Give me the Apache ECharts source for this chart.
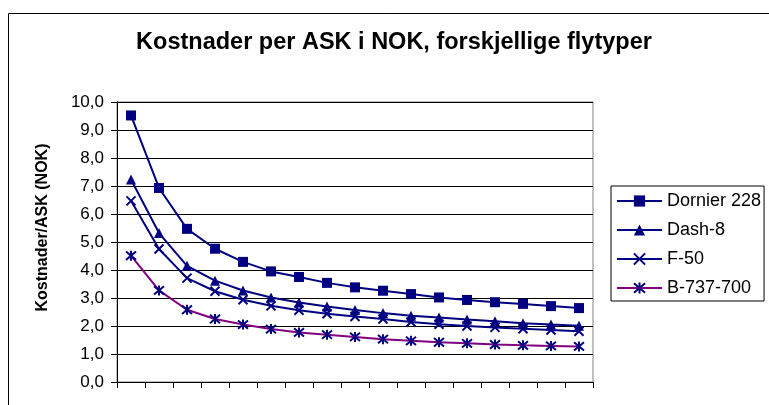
<!DOCTYPE html>
<html>
<head>
<meta charset="utf-8">
<script src="https://cdn.jsdelivr.net/npm/echarts@6/dist/echarts.min.js"></script>
<style>html,body{margin:0;padding:0;background:#fff}#c{width:769px;height:405px}</style>
</head>
<body>
<div id="c"></div>
<script>
const categories = ['1','2','3','4','5','6','7','8','9','10','11','12','13','14','15','16','17'];
const dornier = [9.52, 6.93, 5.47, 4.76, 4.29, 3.95, 3.75, 3.54, 3.38, 3.26, 3.14, 3.02, 2.93, 2.85, 2.79, 2.71, 2.64];
const dash8 = [7.23, 5.32, 4.15, 3.62, 3.27, 3.02, 2.84, 2.70, 2.57, 2.46, 2.37, 2.30, 2.23, 2.17, 2.10, 2.05, 2.01];
const f50 = [6.47, 4.75, 3.71, 3.24, 2.94, 2.72, 2.56, 2.44, 2.34, 2.25, 2.14, 2.06, 2.00, 1.95, 1.90, 1.86, 1.81];
const b737 = [4.51, 3.27, 2.58, 2.25, 2.05, 1.89, 1.77, 1.69, 1.61, 1.53, 1.47, 1.42, 1.38, 1.34, 1.31, 1.29, 1.27];
const seriesNames = ['Dornier 228', 'Dash-8', 'F-50', 'B-737-700'];
const titleText = 'Kostnader per ASK i NOK, forskjellige flytyper';
const yName = 'Kostnader/ASK (NOK)';

const navy = '#000080';
const purple = '#800080';
const font = 'Liberation Sans, Arial, sans-serif';
const xPath = 'path://M0 0L10 10M10 0L0 10';
const starPath = 'path://M0 0L10 10M10 0L0 10M5 -1L5 11';

const chart = echarts.init(document.getElementById('c'));
function mk(name, data, symbol, size, lineColor, stroke) {
  return {
    name: name, type: 'line', data: data, symbol: symbol, symbolSize: size,
    lineStyle: {color: lineColor, width: 2},
    itemStyle: stroke ? {color: 'none', borderColor: navy, borderWidth: 2} : {color: navy, borderWidth: 0},
    emphasis: {disabled: true}, animation: false, showAllSymbol: true
  };
}
chart.setOption({
  animation: false,
  graphic: [
    {type: 'rect', shape: {x: 8.5, y: 13.5, width: 800, height: 500}, style: {fill: 'none', stroke: '#000', lineWidth: 1}, z: -1},
    {type: 'text', x: 394, y: 43, style: {text: titleText, font: 'bold 23.5px ' + font, fill: '#000', align: 'center', verticalAlign: 'middle'}},
    {type: 'text', x: 42.5, y: 227.5, rotation: Math.PI / 2, style: {text: yName, font: 'bold 16px ' + font, fill: '#000', align: 'center', verticalAlign: 'middle'}}
  ],
  grid: {left: 117, top: 102, width: 476, height: 280, show: true, borderColor: '#808080', borderWidth: 1, backgroundColor: 'transparent'},
  legend: {
    orient: 'vertical', left: 611, top: 186, itemWidth: 45, itemHeight: 14, itemGap: 11,
    padding: [6, 3, 4, 5], borderColor: '#000', borderWidth: 1,
    textStyle: {fontFamily: font, fontSize: 18, lineHeight: 14, color: '#000'},
    data: seriesNames
  },
  xAxis: {
    type: 'category', data: categories, boundaryGap: true,
    axisLine: {lineStyle: {color: '#000', width: 1}},
    axisTick: {show: true, length: 6, lineStyle: {color: '#000'}},
    axisLabel: {show: false}, splitLine: {show: false}
  },
  yAxis: {
    type: 'value', min: 0, max: 10, interval: 1,
    axisLine: {show: true, lineStyle: {color: '#000', width: 1}},
    axisTick: {show: true, length: 6, lineStyle: {color: '#000'}},
    axisLabel: {margin: 13, fontFamily: font, fontSize: 17, color: '#000', formatter: v => v.toFixed(1).replace('.', ',')},
    splitLine: {show: true, lineStyle: {color: '#000', width: 1}}
  },
  series: [
    mk(seriesNames[0], dornier, 'rect', 10, navy, false),
    mk(seriesNames[1], dash8, 'triangle', 10, navy, false),
    mk(seriesNames[2], f50, xPath, 9, navy, true),
    mk(seriesNames[3], b737, starPath, 10, purple, true)
  ]
});
</script>
</body>
</html>
